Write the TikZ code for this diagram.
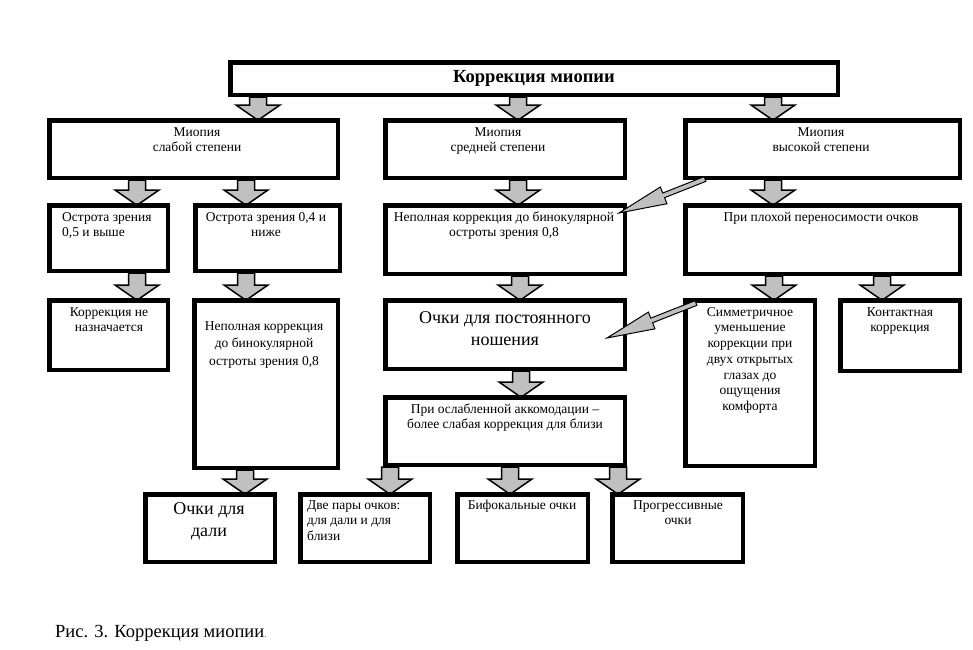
\documentclass[tikz,border=0pt]{standalone}
\usepackage{fontspec}
\setmainfont{Liberation Serif}
\usetikzlibrary{calc}
\definecolor{arrgray}{RGB}{192,192,192}
\pgfdeclarelayer{bg}
\pgfsetlayers{bg,main}
\tikzset{
  box/.style={draw=black, line width=4.5pt, fill=white, inner sep=0pt, rectangle},
  txt/.style={inner sep=0pt, anchor=north, align=center, font=\fontsize{13.5}{15.7}\selectfont},
  txtl/.style={txt, anchor=north west, align=left},
  bigtxt/.style={txt, font=\fontsize{18}{22}\selectfont},
  blockarr/.style={draw=black, line width=1.5pt, fill=arrgray, line join=miter},
  thinarr/.style={draw=black, line width=1pt, fill=arrgray, line join=miter},
}
% box: name, x1, y1, x2, y2 (outer edges, pixels)
\newcommand\bx[5]{\node[box, minimum width={#4pt-#2pt-4.5pt}, minimum height={#5pt-#3pt-4.5pt}] (#1) at ({(#2+#4)/2},{(#3+#5)/2}) {};}
% block arrow: x, upper node, lower node
\newcommand\barr[3]{\draw[blockarr] let \p1=(#1,0 |- #2.south), \p2=(#1,0 |- #3.north) in
  (\x1-8.5pt,\y1) -- (\x1+8.5pt,\y1) -- (\x1+8.5pt,\y2+13pt) -- (\x1+22pt,\y2+13pt)
  -- (\x1,\y2-2.25pt) -- (\x1-22pt,\y2+13pt) -- (\x1-8.5pt,\y2+13pt) -- cycle;}
% thin arrow: tail coordinate, tip coordinate
\newcommand\tarr[2]{\draw[thinarr] let \p1=(#1), \p2=(#2),
  \n1={veclen(\x2-\x1,\y2-\y1)}, \n2={atan2(\y2-\y1,\x2-\x1)} in
  [shift={(\p1)}, rotate=\n2]
  (0pt,-2.5pt) -- (\n1-48pt,-2.5pt) -- (\n1-48pt,-9pt) -- (\n1,0pt)
  -- (\n1-48pt,9pt) -- (\n1-48pt,2.5pt) -- (0pt,2.5pt) -- cycle;}
\begin{document}
\begin{tikzpicture}[x=1pt,y=-1pt]
\begin{pgfonlayer}{bg}
\fill[white] (0,0) rectangle (973,649);
\end{pgfonlayer}
\useasboundingbox (0,0) rectangle (973,649);
% boxes
\node[box, minimum width={612pt-4.5pt}, minimum height={37pt-4.5pt}, font=\fontsize{18.5}{20}\selectfont\bfseries] (top) at (534,78.5) {Коррекция миопии};
\bx{L2}{47}{118}{340}{180}
\bx{M2}{383}{118}{627}{180}
\bx{R2}{683}{118}{962}{180}
\bx{A}{47}{203}{170}{273}
\bx{B}{193}{203}{342}{273}
\bx{C}{383}{203}{627}{276}
\bx{D}{683}{203}{962}{276}
\bx{E}{47}{298}{170}{372}
\bx{F}{192}{298}{340}{470}
\bx{G}{383}{298}{627}{371}
\bx{H}{683}{298}{817}{468}
\bx{I}{838}{298}{962}{373}
\bx{J}{383}{395}{627}{467}
\bx{K}{143}{492}{277}{564}
\bx{L}{298}{492}{432}{564}
\bx{M}{455}{492}{590}{564}
\bx{N}{610}{492}{745}{564}
% texts (y = first baseline - 11)
\node[txt] (tL2) at (197,125) {\strut Миопия\\слабой степени};
\node[txt] (tM2) at (498,125) {\strut Миопия\\средней степени};
\node[txt] (tR2) at (821,125) {\strut Миопия\\высокой степени};
\node[txtl] (tA) at (62,210) {\strut Острота зрения\\0,5 и выше};
\node[txt] (tB) at (266,210) {\strut Острота зрения 0,4 и\\ниже};
\node[txt] (tC) at (504,210) {\strut Неполная коррекция до бинокулярной\\остроты зрения 0,8};
\node[txt] (tD) at (821,210) {\strut При плохой переносимости очков};
\node[txt] (tE) at (109,305) {\strut Коррекция не\\назначается};
\node[txt, font=\fontsize{13.5}{17.5}\selectfont] (tF) at (264,318) {\strut Неполная коррекция\\до бинокулярной\\остроты зрения 0,8};
\node[bigtxt] (tG) at (505,308) {\strut Очки для постоянного\\ношения};
\node[txt] (tH) at (750,305) {\strut Симметричное\\уменьшение\\коррекции при\\двух открытых\\глазах до\\ощущения\\комфорта};
\node[txt] (tI) at (900,305) {\strut Контактная\\коррекция};
\node[txt] (tJ) at (505,402) {\strut При ослабленной аккомодации –\\более слабая коррекция для близи};
\node[bigtxt] (tK) at (209,499) {\strut Очки для\\дали};
\node[txtl] (tL) at (307,498) {\strut Две пары очков:\\для дали и для\\близи};
\node[txt] (tM) at (522,498) {\strut Бифокальные очки};
\node[txt] (tN) at (678,498) {\strut Прогрессивные\\очки};
% caption
\node[inner sep=0pt, anchor=base west, font=\fontsize{18.5}{20}\selectfont] (cap) at (55,637) {Рис. 3. Коррекция миопии{\fontsize{8}{9}\selectfont.}};
% block arrows (behind the boxes)
\begin{pgfonlayer}{bg}
\barr{258}{top}{L2}
\barr{518}{top}{M2}
\barr{773}{top}{R2}
\barr{137}{L2}{A}
\barr{246}{L2}{B}
\barr{518}{M2}{C}
\barr{773}{R2}{D}
\barr{137}{A}{E}
\barr{246}{B}{F}
\barr{520}{C}{G}
\barr{774}{D}{H}
\barr{882}{D}{I}
\barr{521}{G}{J}
\barr{245}{F}{K}
\barr{390}{J}{L}
\barr{510}{J}{M}
\barr{618}{J}{N}
\end{pgfonlayer}
% thin diagonal arrows
\coordinate (s1) at (705,179);
\coordinate (e1) at (619,213);
\coordinate (s2) at (696,303);
\coordinate (e2) at (607,338);
\tarr{s1}{e1}
\tarr{s2}{e2}
\end{tikzpicture}
\end{document}
